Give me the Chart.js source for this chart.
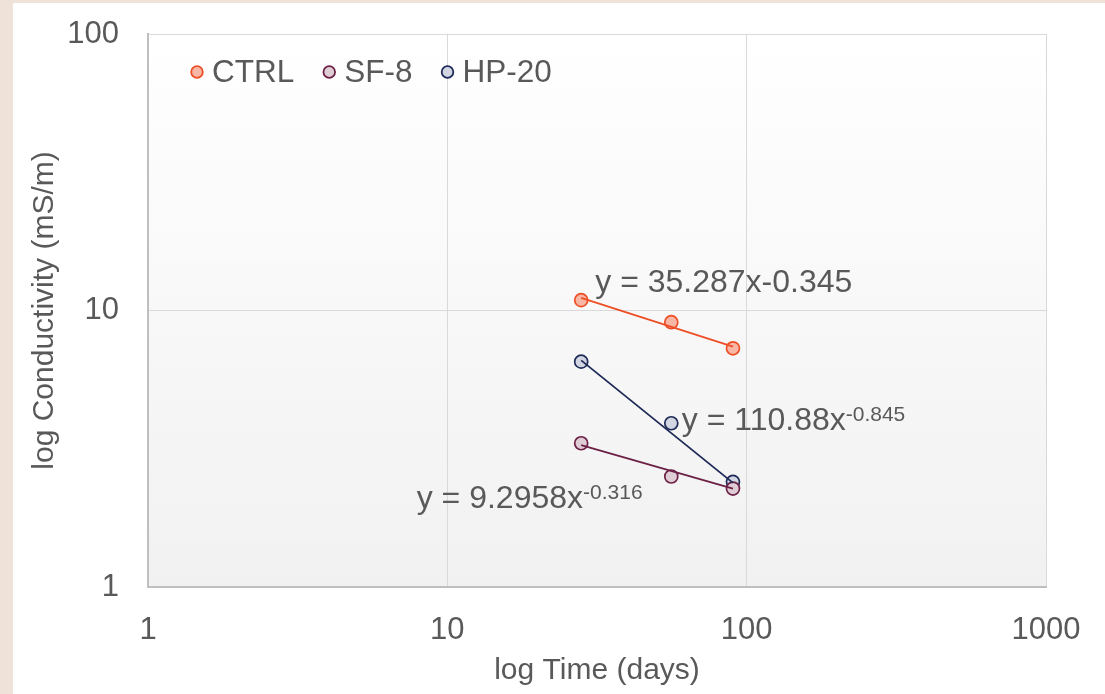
<!DOCTYPE html>
<html>
<head>
<meta charset="utf-8">
<script src="https://cdn.jsdelivr.net/npm/chart.js@4"></script>
<style>
  html, body { margin: 0; padding: 0; width: 1105px; height: 694px; overflow: hidden; background: #efe3d9; }
  #wrap { position: absolute; left: 13px; top: 3px; width: 1092px; height: 691px; background: #ffffff; }
  canvas { display: block; }
</style>
</head>
<body>
<div id="wrap"><canvas id="c" width="1092" height="691"></canvas></div>
<script>
// ---- data ----
const days = [28, 56, 90];
const ctrlValues = [10.9, 9.07, 7.3];
const sf8Values = [3.31, 2.51, 2.27];
const hp20Values = [6.53, 3.91, 2.40];

const trendDays = [28, 90];
const ctrlTrend = [11.1, 7.4];
const sf8Trend = [3.26, 2.27];
const hp20Trend = [6.6, 2.38];

const seriesNames = ['CTRL', 'SF-8', 'HP-20'];
const xTickValues = [1, 10, 100, 1000];
const yTickValues = [1, 10, 100];

const ctrlEquation = 'y = 35.287x-0.345';
const sf8Equation = ['y = 9.2958x', '-0.316'];
const hp20Equation = ['y = 110.88x', '-0.845'];

// ---- styles ----
const TEXT = '#595959';
const FONT = "'Liberation Sans', Arial, sans-serif";
const styles = [
  { border: '#ee4e26', fill: '#f8b6a5' },
  { border: '#6c2045', fill: '#dfcdd5' },
  { border: '#1e2a57', fill: '#d2d6e2' }
];

const toPts = (xs, ys) => xs.map((x, i) => ({ x: x, y: ys[i] }));

const scatterSets = [ctrlValues, sf8Values, hp20Values].map((vals, i) => ({
  type: 'scatter',
  label: seriesNames[i],
  data: toPts(days, vals),
  pointRadius: 6.5,
  pointHoverRadius: 6.5,
  pointBorderWidth: 1.7,
  pointBackgroundColor: styles[i].fill,
  pointBorderColor: styles[i].border,
  backgroundColor: styles[i].fill,
  borderColor: styles[i].border,
  showLine: false,
  order: 2
}));

const trendSets = [ctrlTrend, sf8Trend, hp20Trend].map((vals, i) => ({
  type: 'line',
  label: seriesNames[i] + ' trend',
  data: toPts(trendDays, vals),
  borderColor: styles[i].border,
  borderWidth: 1.8,
  pointRadius: 0,
  pointHoverRadius: 0,
  fill: false,
  tension: 0,
  order: 1
}));

// equation label anchors (left / baseline, in data space)
const eqLabels = [
  { x: 31.2, y: 11.67, parts: [ctrlEquation] },
  { x: 60.7, y: 3.70, parts: hp20Equation },
  { x: 7.90, y: 1.93, parts: sf8Equation }
];

const bgPlugin = {
  id: 'plotBg',
  beforeDraw(chart) {
    const { ctx, chartArea: a } = chart;
    const g = ctx.createLinearGradient(0, a.top, 0, a.bottom);
    g.addColorStop(0, '#ffffff');
    g.addColorStop(1, '#f1f1f1');
    ctx.save();
    ctx.fillStyle = g;
    ctx.fillRect(a.left, a.top, a.right - a.left, a.bottom - a.top);
    ctx.restore();
  }
};

const textPlugin = {
  id: 'texts',
  afterDraw(chart) {
    const { ctx, chartArea: a } = chart;
    const xs = chart.scales.x, ys = chart.scales.y;
    ctx.save();
    ctx.fillStyle = TEXT;
    // equations
    eqLabels.forEach(l => {
      let px = xs.getPixelForValue(l.x);
      const py = ys.getPixelForValue(l.y);
      ctx.textBaseline = 'alphabetic';
      ctx.textAlign = 'left';
      ctx.font = '32px ' + FONT;
      ctx.fillText(l.parts[0], px, py);
      if (l.parts[1]) {
        px += ctx.measureText(l.parts[0]).width;
        ctx.font = '21px ' + FONT;
        ctx.fillText(l.parts[1], px, py - 9);
      }
    });
    // legend
    let lx = a.left + 49;
    const ly = a.top + 38;
    ctx.font = '31.5px ' + FONT;
    ctx.textBaseline = 'middle';
    seriesNames.forEach((n, i) => {
      ctx.beginPath();
      ctx.arc(lx, ly, 5.8, 0, Math.PI * 2);
      ctx.fillStyle = styles[i].fill;
      ctx.fill();
      ctx.lineWidth = 1.8;
      ctx.strokeStyle = styles[i].border;
      ctx.stroke();
      ctx.fillStyle = TEXT;
      ctx.fillText(n, lx + 15, ly + 1);
      lx += 15 + ctx.measureText(n).width + 35;
    });
    ctx.restore();
  }
};

new Chart(document.getElementById('c'), {
  type: 'scatter',
  data: { datasets: [...trendSets, ...scatterSets] },
  plugins: [bgPlugin, textPlugin],
  options: {
    responsive: false,
    animation: false,
    devicePixelRatio: 1,
    layout: { padding: { left: 0, top: 31, right: 59, bottom: 0 } },
    plugins: { legend: { display: false }, tooltip: { enabled: false } },
    scales: {
      x: {
        type: 'logarithmic',
        min: 1, max: 1000,
        afterBuildTicks: s => { s.ticks = xTickValues.map(v => ({ value: v })); },
        afterFit: s => { s.height = 107; },
        ticks: {
          color: TEXT, font: { family: FONT, size: 31 }, padding: 0,
          maxRotation: 0, autoSkip: false,
          callback: v => String(v)
        },
        grid: { color: '#d9d9d9', lineWidth: 1, drawTicks: true, tickLength: 25, tickColor: 'rgba(0,0,0,0)' },
        border: { color: '#bfbfbf', width: 2 },
        title: {
          display: true, text: 'log Time (days)', color: TEXT,
          font: { family: FONT, size: 30 }, padding: { top: 0, bottom: 5 }
        }
      },
      y: {
        type: 'logarithmic',
        min: 1, max: 100,
        afterBuildTicks: s => { s.ticks = yTickValues.map(v => ({ value: v })); },
        afterFit: s => { s.width = 135; },
        ticks: {
          color: TEXT, font: { family: FONT, size: 31 }, padding: 0,
          autoSkip: false,
          callback: v => String(v)
        },
        grid: { color: '#d9d9d9', lineWidth: 1, drawTicks: true, tickLength: 29, tickColor: 'rgba(0,0,0,0)' },
        border: { color: '#bfbfbf', width: 2 },
        title: {
          display: true, text: 'log Conductivity (mS/m)', color: TEXT,
          font: { family: FONT, size: 30 }, padding: { top: 14, bottom: 0 }
        }
      }
    }
  }
});
</script>
</body>
</html>
